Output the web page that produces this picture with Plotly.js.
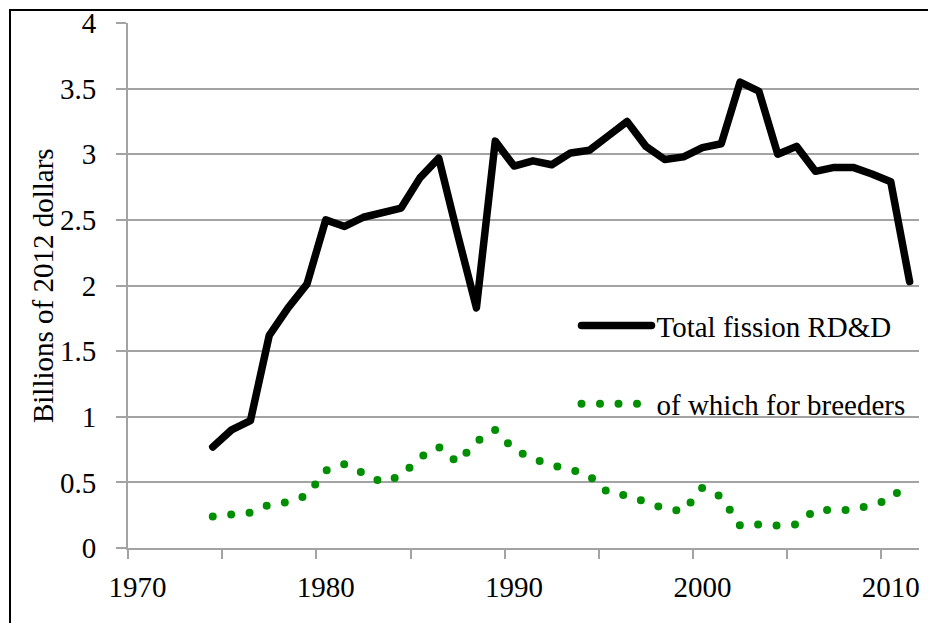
<!DOCTYPE html>
<html><head><meta charset="utf-8">
<script src="https://cdn.plot.ly/plotly-3.0.1.min.js"></script>
<style>
html,body{margin:0;padding:0;background:#fff;overflow:hidden;}
#chart{position:absolute;left:0;top:0;width:928px;height:623px;}
#frame{position:absolute;left:9px;top:9px;width:1000px;height:1000px;border-left:2px solid #000;border-top:2px solid #000;pointer-events:none;}
.js-line{stroke-linecap:round;stroke-linejoin:round;}
</style></head><body>
<div id="chart"></div><div id="frame"></div>
<script>
const years = [1974,1975,1976,1977,1978,1979,1980,1981,1982,1983,
               1984,1985,1986,1987,1988,1989,1990,1991,1992,1993,
               1994,1995,1996,1997,1998,1999,2000,2001,2002,2003,
               2004,2005,2006,2007,2008,2009,2010,2011];
const totalFission = [0.77,0.90,0.97,1.62,1.83,2.01,2.50,2.45,2.52,2.55,
                      2.59,2.82,2.97,2.39,1.83,3.10,2.91,2.95,2.92,3.01,
                      3.03,3.14,3.25,3.06,2.96,2.98,3.05,3.08,3.55,3.48,
                      3.00,3.06,2.87,2.90,2.90,2.85,2.79,2.03];
const breeders = [0.24,0.26,0.27,0.33,0.35,0.40,0.59,0.64,0.57,0.50,
                  0.55,0.69,0.77,0.65,0.81,0.90,0.75,0.68,0.63,0.60,
                  0.55,0.42,0.40,0.35,0.30,0.28,0.46,0.39,0.17,0.18,
                  0.17,0.18,0.29,0.29,0.29,0.33,0.37,0.52];
const seriesNames = ['Total fission RD&D', 'of which for breeders'];
const xTickVals = [1970,1980,1990,2000,2010];
const xTickText = ['1970','1980','1990','2000','2010'];
const yTickVals = [0,0.5,1,1.5,2,2.5,3,3.5,4];
const yTickText = ['0','0.5','1','1.5','2','2.5','3','3.5','4'];
const yTitle = 'Billions of 2012 dollars';

const FONT = 'Liberation Serif';
const FS = 29;
const GRID = '#a3a3a3';

const traces = [
  {x: years, y: totalFission, name: seriesNames[0], type: 'scatter', mode: 'lines',
   line: {color: '#000000', width: 7.5}, legend: 'legend'},
  {x: years, y: breeders, name: seriesNames[1], type: 'scatter', mode: 'lines',
   line: {color: '#008f00', width: 8, dash: '0px,18.5px'}, legend: 'legend2'}
];

const layout = {
  width: 928, height: 623,
  margin: {l: 128, r: 9, t: 23, b: 75},
  paper_bgcolor: '#ffffff', plot_bgcolor: '#ffffff',
  font: {family: FONT, size: FS, color: '#000'},
  showlegend: true,
  xaxis: {
    range: [1969.5, 2011.5], tickmode: 'array', tickvals: xTickVals, ticktext: xTickText,
    ticks: '', showgrid: false, zeroline: false,
    showline: true, linecolor: GRID, linewidth: 2,
    ticklabelstandoff: 12,
    tickfont: {family: FONT, size: FS, color: '#000'},
    minor: {tick0: 1969.5, dtick: 5, ticks: 'outside', ticklen: 9, tickwidth: 2, tickcolor: GRID, showgrid: false}
  },
  yaxis: {
    range: [0, 4], tickmode: 'array', tickvals: yTickVals, ticktext: yTickText,
    ticks: 'outside', ticklen: 10, tickwidth: 2, tickcolor: GRID,
    showgrid: true, gridcolor: GRID, gridwidth: 2, zeroline: false,
    showline: true, linecolor: GRID, linewidth: 2,
    ticklabelstandoff: 14,
    tickfont: {family: FONT, size: FS, color: '#000'}
  },
  legend: {x: 0.567, y: 0.472, xanchor: 'left', yanchor: 'top', bgcolor: 'rgba(0,0,0,0)',
           font: {family: FONT, size: FS, color: '#000'}, itemwidth: 70},
  legend2: {x: 0.567, y: 0.323, xanchor: 'left', yanchor: 'top', bgcolor: 'rgba(0,0,0,0)',
           font: {family: FONT, size: FS, color: '#000'}, itemwidth: 70},
  annotations: [{
    text: yTitle, xref: 'paper', yref: 'paper', x: -0.108, y: 0.5,
    xanchor: 'center', yanchor: 'middle', textangle: -90, showarrow: false,
    font: {family: FONT, size: FS, color: '#000'}
  }]
};

Plotly.newPlot('chart', traces, layout, {displayModeBar: false, staticPlot: true});
</script>
</body></html>
